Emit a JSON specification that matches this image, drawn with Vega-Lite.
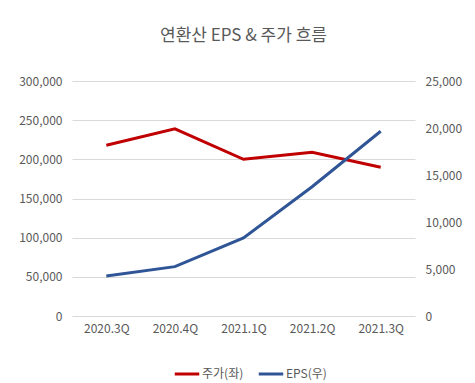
{
  "$schema": "https://vega.github.io/schema/vega-lite/v6.json",
  "width": 343,
  "height": 235,
  "autosize": "none",
  "padding": {"left": 72, "top": 81, "right": 60, "bottom": 67},
  "background": "white",
  "title": {
    "text": "연환산 EPS & 주가 흐름",
    "font": "Noto Sans CJK KR",
    "fontSize": 17,
    "fontWeight": "normal",
    "color": "#595959",
    "anchor": "middle",
    "offset": 30
  },
  "config": {
    "view": {"stroke": null},
    "font": "Noto Sans CJK KR",
    "axis": {
      "labelFont": "Noto Sans CJK KR",
      "labelFontSize": 12,
      "labelColor": "#595959",
      "domain": false,
      "ticks": false,
      "title": null,
      "gridColor": "#d9d9d9",
      "gridWidth": 1
    }
  },
  "data": {
    "values": [
      {"quarter": "2020.3Q", "series": "주가(좌)", "value": 218000},
      {"quarter": "2020.4Q", "series": "주가(좌)", "value": 239000},
      {"quarter": "2021.1Q", "series": "주가(좌)", "value": 200000},
      {"quarter": "2021.2Q", "series": "주가(좌)", "value": 209000},
      {"quarter": "2021.3Q", "series": "주가(좌)", "value": 190000},
      {"quarter": "2020.3Q", "series": "EPS(우)", "value": 4250},
      {"quarter": "2020.4Q", "series": "EPS(우)", "value": 5250},
      {"quarter": "2021.1Q", "series": "EPS(우)", "value": 8300},
      {"quarter": "2021.2Q", "series": "EPS(우)", "value": 13750},
      {"quarter": "2021.3Q", "series": "EPS(우)", "value": 19650}
    ]
  },
  "encoding": {
    "x": {
      "field": "quarter",
      "type": "ordinal",
      "scale": {"type": "point", "padding": 0.5},
      "axis": {"labelAngle": 0, "labelPadding": 7, "grid": false}
    },
    "color": {
      "field": "series",
      "type": "nominal",
      "scale": {"domain": ["주가(좌)", "EPS(우)"], "range": ["#C00000", "#2F5597"]},
      "legend": {
        "orient": "none",
        "legendX": 101,
        "legendY": 279,
        "direction": "horizontal",
        "title": null,
        "symbolType": "stroke",
        "symbolStrokeWidth": 3,
        "symbolSize": 600,
        "labelFont": "Noto Sans CJK KR",
        "labelFontSize": 12,
        "labelColor": "#595959",
        "labelOffset": 1,
        "columnPadding": 8
      }
    }
  },
  "layer": [
    {
      "transform": [{"filter": "datum.series === '주가(좌)'"}],
      "mark": {"type": "line", "strokeWidth": 3},
      "encoding": {
        "y": {
          "field": "value",
          "type": "quantitative",
          "scale": {"domain": [0, 300000], "nice": false},
          "axis": {"orient": "left", "values": [0, 50000, 100000, 150000, 200000, 250000, 300000], "format": ",d", "labelPadding": 10, "grid": true}
        }
      }
    },
    {
      "transform": [{"filter": "datum.series === 'EPS(우)'"}],
      "mark": {"type": "line", "strokeWidth": 3},
      "encoding": {
        "y": {
          "field": "value",
          "type": "quantitative",
          "scale": {"domain": [0, 25000], "nice": false},
          "axis": {"orient": "right", "values": [0, 5000, 10000, 15000, 20000, 25000], "format": ",d", "labelPadding": 10, "grid": false}
        }
      }
    }
  ],
  "resolve": {"scale": {"y": "independent"}}
}
